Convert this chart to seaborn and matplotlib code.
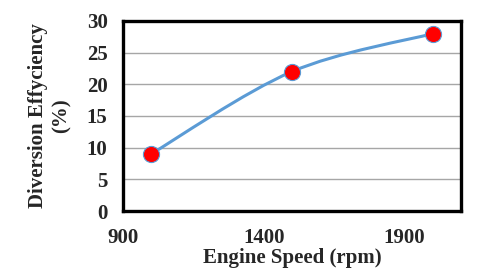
import numpy as np
import pandas as pd
import matplotlib
matplotlib.use("Agg")
import matplotlib.pyplot as plt
from matplotlib.path import Path
from matplotlib.patches import PathPatch
import seaborn as sns

# datos
engine_speed = [1000, 1500, 2000]
efficiency = [9, 22, 28]
x_ticks = [900, 1400, 1900]
y_ticks = [0, 5, 10, 15, 20, 25, 30]

sns.set_theme(style="white")
plt.rcParams['font.family'] = ['Liberation Serif', 'DejaVu Serif']
plt.rcParams['font.weight'] = 'bold'

df = pd.DataFrame({'speed': engine_speed, 'eff': efficiency})

fig = plt.figure(figsize=(4.8, 2.76), dpi=100)
ax = fig.add_axes([0.256, 0.2355, 0.704, 0.6885])

# curva suavizada tipo Excel (bezier entre puntos)
pts = np.column_stack([df['speed'], df['eff']]).astype(float)
ext = np.vstack([pts[0], pts, pts[-1]])
verts = [tuple(pts[0])]
codes = [Path.MOVETO]
for i in range(1, len(ext) - 2):
    p0, p1, p2, p3 = ext[i - 1], ext[i], ext[i + 1], ext[i + 2]
    c1 = p1 + (p2 - p0) / 6.0
    c2 = p2 - (p3 - p1) / 6.0
    verts += [tuple(c1), tuple(c2), tuple(p2)]
    codes += [Path.CURVE4] * 3
ax.add_patch(PathPatch(Path(verts, codes), facecolor='none',
                       edgecolor='#5B9BD5', lw=2.2, zorder=2))

sns.scatterplot(data=df, x='speed', y='eff', ax=ax, s=135, color='#FF0000',
                edgecolor='#5B9BD5', linewidth=0.8, zorder=3, legend=False)

ax.set_xlim(900, 2100)
ax.set_ylim(0, 30)
ax.set_xticks(x_ticks)
ax.set_yticks(y_ticks)
ax.yaxis.grid(True, color='#A6A6A6', lw=1)
ax.xaxis.grid(False)
ax.tick_params(axis='both', length=0, labelsize=15)
ax.tick_params(axis='y', pad=11)
ax.tick_params(axis='x', pad=12)
for s in ax.spines.values():
    s.set_visible(True)
    s.set_color('black')
    s.set_linewidth(2.4)

ax.set_xlabel('Engine Speed (rpm)', fontsize=15, fontweight='bold', labelpad=0)
ax.set_ylabel('Diversion Effyciency\n(%)', fontsize=15, fontweight='bold',
              labelpad=11, linespacing=1.25)

plt.savefig('out.png', dpi=100)
